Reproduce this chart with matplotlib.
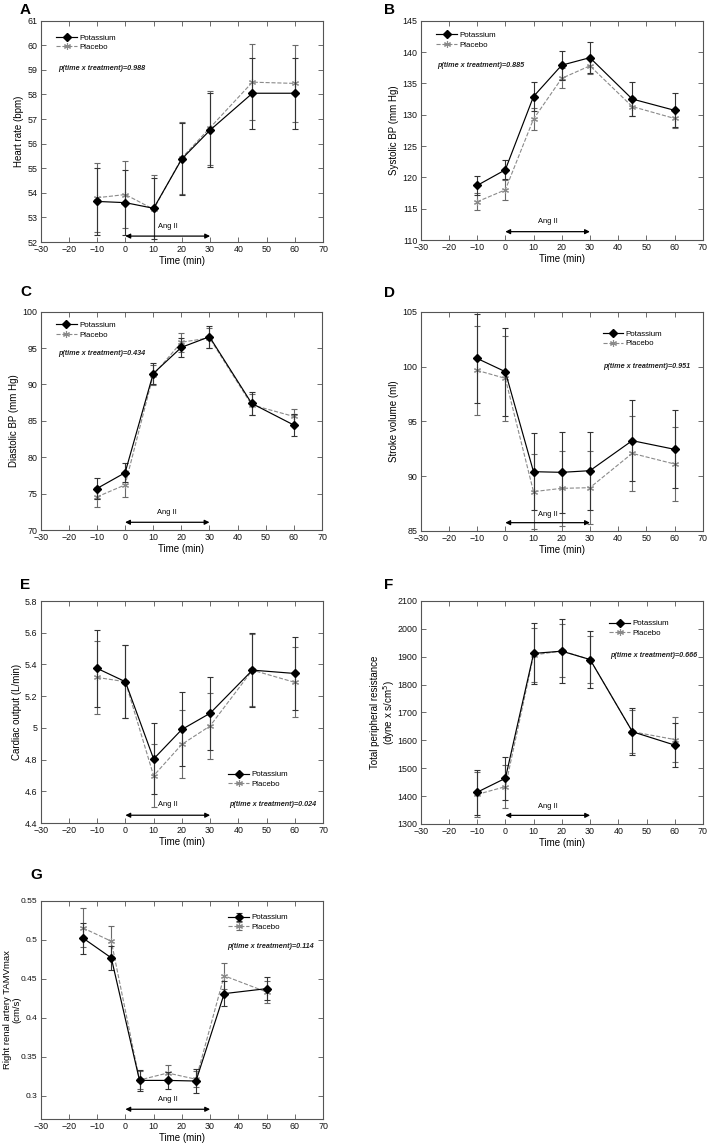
import matplotlib
matplotlib.use("Agg")
import matplotlib.pyplot as plt
from matplotlib.ticker import FuncFormatter
import numpy as np

plt.rcParams['font.family'] = ['Liberation Sans', 'DejaVu Sans']

# ---------------- data ----------------
time_main = [-10, 0, 10, 20, 30, 45, 60]
time_renal = [-15, -5, 5, 15, 25, 35, 50]

hr_pot = [53.65, 53.6, 53.37, 55.38, 56.55, 58.05, 58.05]
hr_pot_err = [1.35, 1.32, 1.25, 1.45, 1.5, 1.45, 1.45]
hr_pla = [53.8, 53.93, 53.33, 55.42, 56.65, 58.5, 58.45]
hr_pla_err = [1.4, 1.37, 1.4, 1.47, 1.5, 1.55, 1.58]

sbp_pot = [118.7, 121.2, 132.9, 137.9, 139.1, 132.5, 130.7]
sbp_pot_err = [1.5, 1.5, 2.3, 2.3, 2.5, 2.7, 2.7]
sbp_pla = [116.1, 118.0, 129.3, 135.8, 137.8, 131.3, 129.4]
sbp_pla_err = [1.35, 1.65, 1.7, 1.6, 1.3, 1.5, 1.5]

dbp_pot = [75.7, 77.87, 91.5, 95.1, 96.56, 87.4, 84.42]
dbp_pot_err = [1.5, 1.3, 1.45, 1.35, 1.5, 1.6, 1.5]
dbp_pla = [74.55, 76.2, 91.3, 95.8, 96.4, 87.2, 85.6]
dbp_pla_err = [1.35, 1.6, 1.4, 1.3, 1.4, 1.45, 1.05]

sv_pot = [100.74, 99.53, 90.41, 90.35, 90.5, 93.24, 92.45]
sv_pot_err = [4.05, 4.02, 3.5, 3.7, 3.55, 3.72, 3.55]
sv_pla = [99.65, 98.92, 88.59, 88.89, 88.95, 92.08, 91.11]
sv_pla_err = [4.07, 3.9, 3.42, 3.4, 3.35, 3.4, 3.4]

co_pot = [5.375, 5.291, 4.804, 4.99, 5.092, 5.364, 5.343]
co_pot_err = [0.245, 0.229, 0.224, 0.233, 0.231, 0.235, 0.23]
co_pla = [5.318, 5.291, 4.698, 4.896, 5.012, 5.364, 5.287]
co_pla_err = [0.229, 0.229, 0.2, 0.214, 0.21, 0.225, 0.22]

tpr_pot = [1414, 1464, 1912, 1920, 1890, 1631, 1583]
tpr_pot_err = [80, 78, 108, 115, 103, 84, 80]
tpr_pla = [1406, 1434, 1906, 1921, 1890, 1631, 1603]
tpr_pla_err = [80, 76, 97, 95, 85, 78, 82]

ren_pot = [0.502, 0.4767, 0.3195, 0.3195, 0.3187, 0.4308, 0.4372]
ren_pot_err = [0.02, 0.015, 0.0135, 0.011, 0.015, 0.016, 0.015]
ren_pla = [0.515, 0.498, 0.32, 0.329, 0.321, 0.4537, 0.4329]
ren_pla_err = [0.025, 0.019, 0.012, 0.01, 0.01, 0.017, 0.014]

series_labels = ['Potassium', 'Placebo']
xticks = list(range(-30, 71, 10))

# ---------------- figure ----------------
W, H = 709, 1145
fig = plt.figure(figsize=(W / 100, H / 100), dpi=100)

def axes_px(left, right, top, bottom):
    return fig.add_axes([left / W, 1 - bottom / H, (right - left) / W, (bottom - top) / H])

SPINE = '#555555'
POT_C = 'black'
PLA_C = '#8a8a8a'

def style(ax, ylim, yticks, ylabel, fmt=None, label_x=None, tsize=6.4, lsize=7):
    ax.set_xlim(-30, 70)
    ax.set_xticks(xticks)
    ax.set_ylim(*ylim)
    ax.set_yticks(yticks)
    if fmt is not None:
        ax.yaxis.set_major_formatter(fmt)
    ax.tick_params(direction='in', top=True, right=True, length=3.5, width=0.6,
                   color=SPINE, labelsize=6.4, pad=2.5, labelcolor='#111111')
    ax.tick_params(axis='y', labelsize=tsize)
    for s in ax.spines.values():
        s.set_color(SPINE)
        s.set_linewidth(0.8)
    ax.set_xlabel('Time (min)', fontsize=7, labelpad=1)
    ax.set_ylabel(ylabel, fontsize=lsize, labelpad=2, linespacing=1.05)
    if label_x is not None:
        ax.yaxis.set_label_coords(label_x, 0.5)

def draw(ax, t, pot, pot_err, pla, pla_err):
    c_pla = ax.errorbar(t, pla, yerr=pla_err, color=PLA_C, ls='--', lw=0.8,
                        marker=(6, 2, 0), ms=5, mew=0.8, ecolor='#6a6a6a',
                        elinewidth=0.8, capsize=2, capthick=0.8, zorder=2)
    c_pot = ax.errorbar(t, pot, yerr=pot_err, color=POT_C, ls='-', lw=0.85,
                        marker='D', ms=4.5, ecolor='#333333',
                        elinewidth=0.8, capsize=2, capthick=0.8, zorder=3)
    return c_pot, c_pla

def ang(ax, y_arrow, y_text, x_text=15):
    ax.annotate('', xy=(0, y_arrow), xytext=(30, y_arrow),
                arrowprops=dict(arrowstyle='<|-|>', color='black', lw=0.9,
                                mutation_scale=7, shrinkA=0, shrinkB=0))
    ax.text(x_text, y_text, 'Ang II', fontsize=5.4, ha='center', va='center')

def legend(ax, handles, x, y):
    ax.legend(handles, series_labels, loc='upper left', bbox_to_anchor=(x, y),
              frameon=False, fontsize=5.7, borderpad=0, borderaxespad=0,
              handlelength=2.6, handletextpad=0.3, labelspacing=0.25)

def ptext(ax, x, y, s, ha='left'):
    ax.text(x, y, s, transform=ax.transAxes, fontsize=5.2, style='italic',
            fontweight='bold', ha=ha, va='center', color='#222222')

def letter(x, y, s):
    fig.text(x / W, 1 - y / H, s, fontsize=11, fontweight='bold', va='top', ha='left')

g3 = FuncFormatter(lambda v, p: f'{v:g}')

# A
axA = axes_px(40.7, 323, 20.7, 242)
hA = draw(axA, time_main, hr_pot, hr_pot_err, hr_pla, hr_pla_err)
style(axA, (52, 61), range(52, 62), 'Heart rate (bpm)')
legend(axA, [hA[0][0], hA[1][0]], 0.055, 0.94)
ptext(axA, 0.062, 0.785, 'p(time x treatment)=0.988')
ang(axA, 52.24, 52.62)
letter(20, 3, 'A')

# B
axB = axes_px(420.7, 702.7, 20.7, 240)
hB = draw(axB, time_main, sbp_pot, sbp_pot_err, sbp_pla, sbp_pla_err)
style(axB, (110, 145), range(110, 146, 5), 'Systolic BP (mm Hg)')
legend(axB, [hB[0][0], hB[1][0]], 0.055, 0.95)
ptext(axB, 0.058, 0.795, 'p(time x treatment)=0.885')
ang(axB, 111.33, 112.9)
letter(384, 3, 'B')

# C
axC = axes_px(40.7, 322, 311.7, 530)
hC = draw(axC, time_main, dbp_pot, dbp_pot_err, dbp_pla, dbp_pla_err)
style(axC, (70, 100), range(70, 101, 5), 'Diastolic BP (mm Hg)')
legend(axC, [hC[0][0], hC[1][0]], 0.055, 0.955)
ptext(axC, 0.062, 0.81, 'p(time x treatment)=0.434')
ang(axC, 71.06, 72.4)
letter(20, 285, 'C')

# D
axD = axes_px(420.7, 702.7, 311.7, 531)
hD = draw(axD, time_main, sv_pot, sv_pot_err, sv_pla, sv_pla_err)
style(axD, (85, 105), range(85, 106, 5), 'Stroke volume (ml)')
legend(axD, [hD[0][0], hD[1][0]], 0.645, 0.915)
ptext(axD, 0.648, 0.752, 'p(time x treatment)=0.951')
ang(axD, 85.76, 86.5)
letter(384, 286, 'D')

# E
axE = axes_px(40.7, 323, 601, 823)
hE = draw(axE, time_main, co_pot, co_pot_err, co_pla, co_pla_err)
style(axE, (4.4, 5.8), np.round(np.arange(4.4, 5.81, 0.2), 1), 'Cardiac output (L/min)', g3)
legend(axE, [hE[0][0], hE[1][0]], 0.665, 0.235)
ptext(axE, 0.668, 0.084, 'p(time x treatment)=0.024')
ang(axE, 4.449, 4.515)
letter(20, 578, 'E')

# F
axF = axes_px(420.7, 703, 601, 824)
hF = draw(axF, time_main, tpr_pot, tpr_pot_err, tpr_pla, tpr_pla_err)
style(axF, (1300, 2100), range(1300, 2101, 100),
      'Total peripheral resistance\n(dyne x s/cm$^5$)', label_x=-0.085)
legend(axF, [hF[0][0], hF[1][0]], 0.668, 0.915)
ptext(axF, 0.671, 0.755, 'p(time x treatment)=0.666')
ang(axF, 1331, 1362)
letter(384, 578, 'F')

# G
axG = axes_px(40.7, 323, 900.7, 1119)
hG = draw(axG, time_renal, ren_pot, ren_pot_err, ren_pla, ren_pla_err)
style(axG, (0.27, 0.55), np.round(np.arange(0.3, 0.551, 0.05), 2),
      'Right renal artery TAMVmax\n(cm/s)', g3, label_x=-0.07, tsize=6.0, lsize=6.8)
legend(axG, [hG[0], hG[1]], 0.665, 0.94)
ptext(axG, 0.659, 0.79, 'p(time x treatment)=0.114')
ang(axG, 0.2825, 0.2945)
letter(30, 868, 'G')

fig.savefig('out.png', dpi=100)
